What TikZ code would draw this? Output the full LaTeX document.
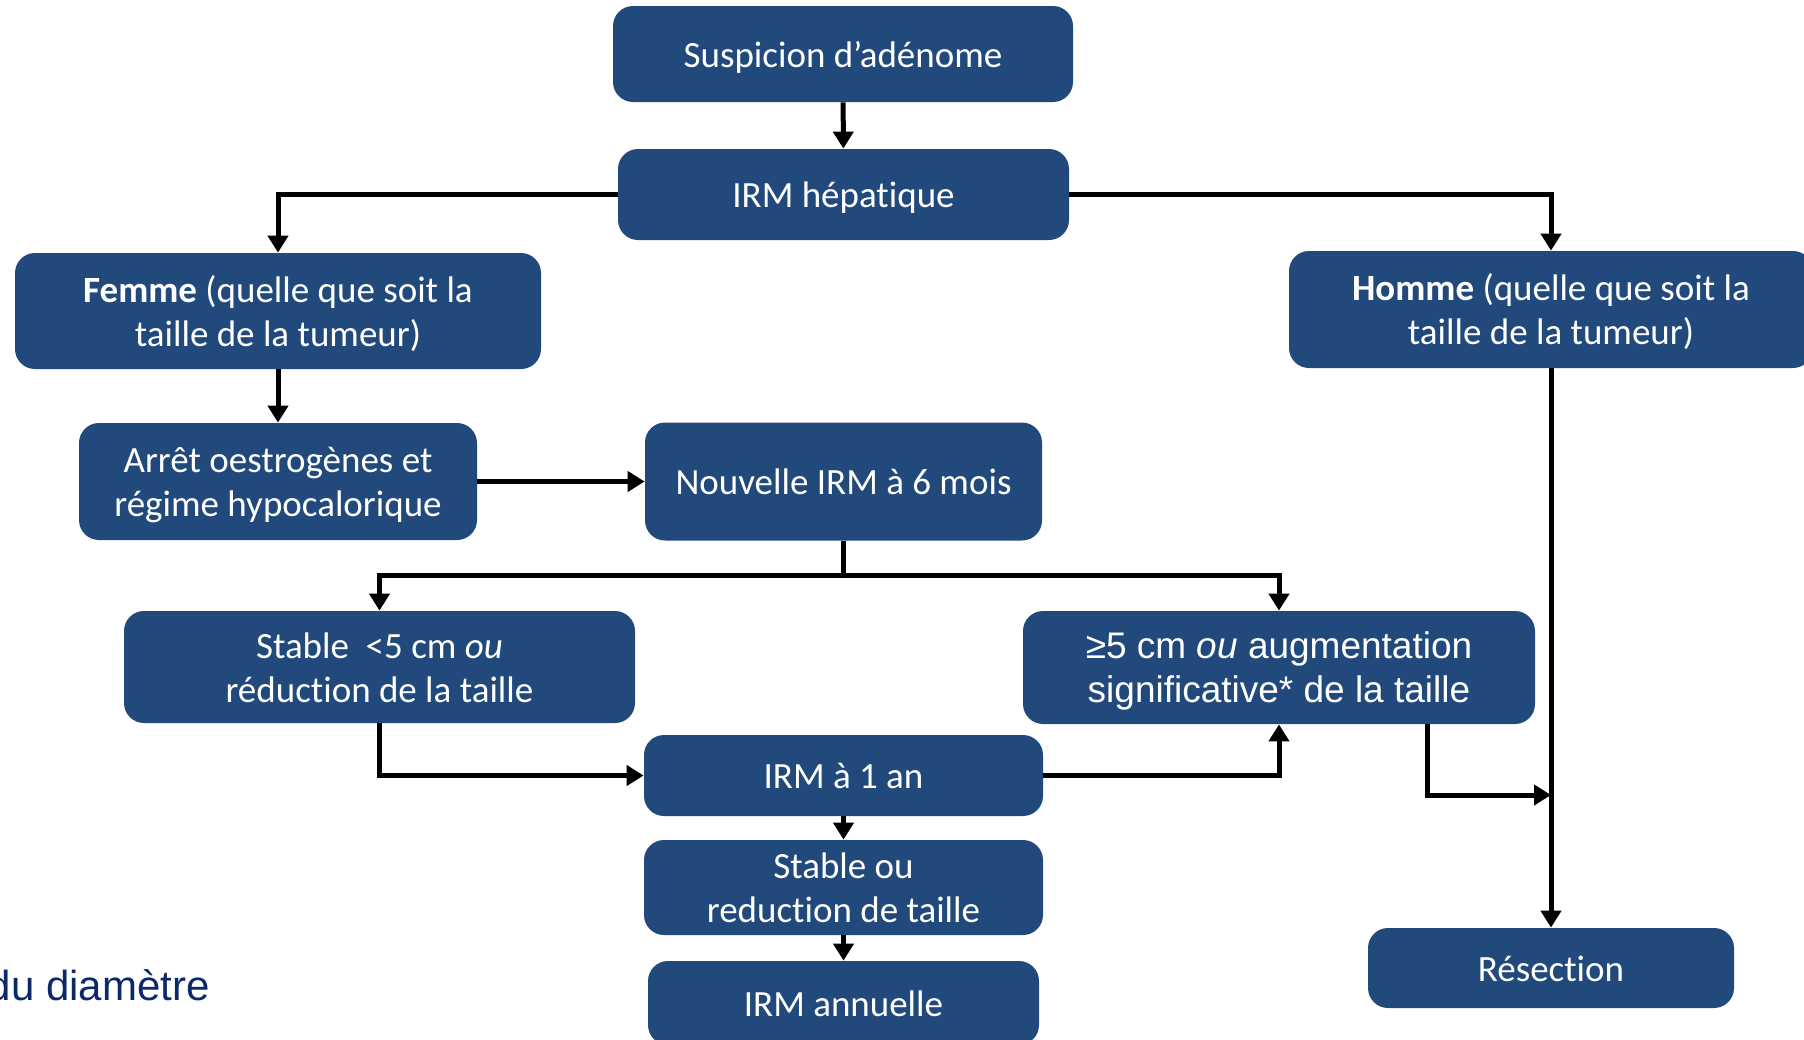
\documentclass[tikz,border=0pt]{standalone}
\usepackage{fontspec}
\setmainfont{Carlito}[Ligatures=NoCommon]
\newfontfamily\arialf{Liberation Sans}
\usetikzlibrary{arrows.meta}
\definecolor{boxblue}{RGB}{33,73,124}
\definecolor{navytext}{RGB}{12,40,105}
\newcommand{\topst}{\rule{0pt}{18pt}}
\newcommand{\botst}{\rule[-5pt]{0pt}{5pt}}
\tikzset{
  box/.style={fill=boxblue, rounded corners=10pt, text=white, align=center, inner sep=0pt,
    font=\fontsize{18.5}{22}\selectfont},
  arialbox/.style={box, font=\arialf\fontsize{18.5}{22}\selectfont},
  conn/.style={draw=black, line width=2.5pt, -{Triangle[length=8.5pt,width=10pt]}},
  plainline/.style={draw=black, line width=2.5pt},
}
\begin{document}
\begin{tikzpicture}[x=0.5pt,y=-0.5pt]
\useasboundingbox (0,0) rectangle (1804,1039);
\clip (0,0) rectangle (1804,1039);
% boxes
\node[box, minimum width=230pt, minimum height=48pt] (sus) at (843,54) {\topst Suspicion d’adénome\botst};
\node[box, minimum width=225.5pt, minimum height=45.5pt] (irmh) at (843.5,194.5) {\topst IRM hépatique\botst};
\node[box, minimum width=263pt, minimum height=58pt] (femme) at (278,311) {\topst\textbf{Femme} (quelle que soit la\\taille de la tumeur)\botst};
\node[box, minimum width=262pt, minimum height=58.5pt] (homme) at (1551,309.5) {\topst\textbf{Homme} (quelle que soit la\\taille de la tumeur)\botst};
\node[box, minimum width=199pt, minimum height=58.5pt] (arret) at (278,481.5) {\topst Arrêt oestrogènes et\\régime hypocalorique\botst};
\node[box, minimum width=198.5pt, minimum height=59pt] (nouv) at (843.5,481.5) {\topst Nouvelle IRM à 6 mois\botst};
\node[box, minimum width=255.5pt, minimum height=56pt] (stab) at (379.5,667) {\topst Stable\ \ <5 cm \textit{ou}\\réduction de la taille\botst};
\node[arialbox, minimum width=256pt, minimum height=56.5pt] (ge5) at (1279,667.5) {\topst ≥5 cm \textit{ou} augmentation\\significative* de la taille\botst};
\node[box, minimum width=199.5pt, minimum height=40.5pt] (irm1) at (843.5,775.5) {\topst IRM à 1 an\botst};
\node[box, minimum width=199.5pt, minimum height=47.5pt] (stou) at (843.5,887.5) {\topst Stable ou\\reduction de taille\botst};
\node[box, minimum width=195.5pt, minimum height=42pt] (annu) at (843.5,1003) {\topst IRM annuelle\botst};
\node[box, minimum width=183pt, minimum height=40pt] (resec) at (1551,968) {\topst Résection\botst};
\node[anchor=base east, inner sep=0pt, text=navytext, font=\arialf\fontsize{21}{25}\selectfont] (note) at (210,1000) {du diamètre};
% connectors
\coordinate (split) at (843.5,575);
\coordinate (jn) at (1551,795);
\draw[conn] (sus) -- (irmh);
\draw[conn] (irmh.west) -| (femme.north);
\draw[conn] (irmh.east) -| (homme.north);
\draw[conn] (femme) -- (arret);
\draw[conn] (arret.east) -- (arret.east -| nouv.west);
\draw[plainline] (nouv.south) -- (split);
\draw[conn] (split) -| (stab.north);
\draw[conn] (split) -| (ge5.north);
\draw[conn] (stab.south) |- (irm1.west);
\draw[conn] (irm1.east) -| (ge5.south);
\draw[conn] ([xshift=74pt]ge5.south) |- (jn);
\draw[conn] (homme) -- (resec);
\draw[conn] (irm1) -- (stou);
\draw[conn] (stou) -- (annu);
\end{tikzpicture}
\end{document}
